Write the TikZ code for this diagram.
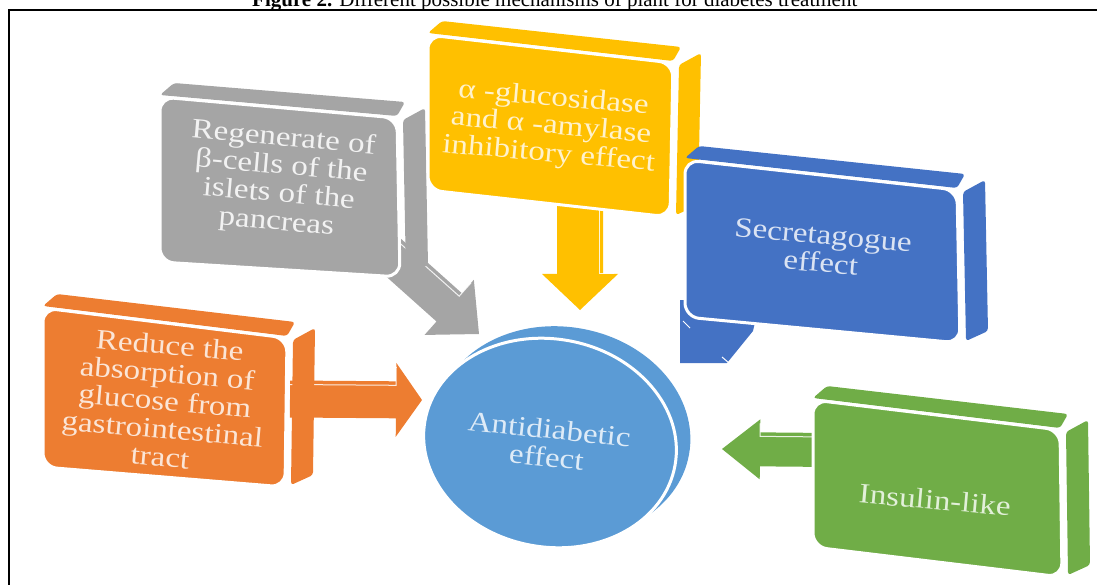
\documentclass[tikz,border=0pt]{standalone}
\usepackage{fontspec}
\setmainfont{Liberation Serif}
\newfontfamily\boxfont[FakeStretch=1.18]{Liberation Serif}
\usetikzlibrary{calc}

\definecolor{orangeC}{HTML}{ED7D31}
\definecolor{grayC}{HTML}{A5A5A5}
\definecolor{yellowC}{HTML}{FFC000}
\definecolor{blueC}{HTML}{4472C4}
\definecolor{greenC}{HTML}{70AD47}
\definecolor{ellC}{HTML}{5B9BD5}
\definecolor{orangeT}{HTML}{FBE5D6}
\definecolor{grayT}{HTML}{F2F2F2}
\definecolor{yellowT}{HTML}{FFF2CC}
\definecolor{blueT}{HTML}{DAE3F3}
\definecolor{greenT}{HTML}{E2F0D9}
\definecolor{ellT}{HTML}{DEEBF7}

% extruded box: top strip, side strip, then the rounded front face
\newcommand\solidbox[2]{%
  \fill[#2, rounded corners=3pt] ($(#1tl)+(14,-14)$) -- ($(#1tr)+(8,-16)$) -- ($(#1tr)+(0,-2)$) -- ($(#1tl)+(0,-2)$) -- cycle;
  \fill[#2, rounded corners=3pt] ($(#1tr)+(6,2)$) -- ($(#1tr)+(28,-10)$) -- ($(#1br)+(28,-12)$) -- ($(#1br)+(6,-2)$) -- cycle;
  \filldraw[fill=#2, draw=white, line width=3pt, rounded corners=14pt] (#1tl) -- (#1tr) -- (#1br) -- (#1bl) -- cycle;
}

% block arrow: #1 start, #2 tip, #3 half shaft, #4 half head, #5 head length, #6 colour, #7 bevel side
\newcommand\blockarrow[7]{%
  \coordinate (#1h) at ($(#2)!#5!(#1)$);
  \fill[#6] ($(#1)!#3!90:(#2)$) -- ($(#1h)!#3!90:(#2)$) -- ($(#1h)!#4!90:(#2)$) -- (#2)
    -- ($(#1h)!#4!-90:(#2)$) -- ($(#1h)!#3!-90:(#2)$) -- ($(#1)!#3!-90:(#2)$) -- cycle;
  \draw[white, line width=1pt, opacity=0.85] ($(#1)!#3-4pt!#7:(#2)$) -- ($(#1h)!#3-4pt!#7:(#2)$)
    -- ($(#1h)!#4-4pt!#7:(#2)$);
}

\tikzset{
  boxtext/.style={font={\boxfont\fontsize{28}{28}\selectfont}, align=center, inner sep=0pt, rotate=-5},
}

\begin{document}
\begin{tikzpicture}[x=1pt,y=-1pt]
\useasboundingbox (0,0) rectangle (1097,585);

% page frame and caption
\draw[line width=2pt] (9,600) -- (9,10) -- (1110,10);
\node[anchor=base west, inner sep=0pt, font={\fontsize{21}{24}\selectfont}] (caption) at (252,6.5)
  {\textbf{Figure 2.} Different possible mechanisms of plant for diabetes treatment};

% central disc
\fill[ellC, rotate around={-10:(563,432)}] (563,432) ellipse [x radius=128pt, y radius=105pt];
\filldraw[fill=ellC, draw=white, line width=3pt, rotate around={-10:(550,443)}] (550,443) ellipse [x radius=127pt, y radius=104pt];
\node[boxtext, text=ellT, rotate=-1] (centre) at (548,443) {Antidiabetic\\effect};

% arrow end points
\coordinate (ga) at (385,250);  \coordinate (gt) at (479,334);
\coordinate (ya) at (580,200);  \coordinate (yt) at (580,310);
\coordinate (oa) at (290,399);  \coordinate (ot) at (422,400);
\coordinate (na) at (830,450);  \coordinate (nt) at (722,449);

\blockarrow{ga}{gt}{19pt}{37pt}{40pt}{grayC}{90}
\blockarrow{ya}{yt}{23pt}{38pt}{36pt}{yellowC}{90}
\blockarrow{oa}{ot}{18.5pt}{37pt}{26pt}{orangeC}{90}
\blockarrow{na}{nt}{17pt}{30pt}{38pt}{greenC}{-90}

% head of the arrow under the blue box
\fill[blueC] (680,300) -- (760,300) -- (753,331) -- (727,363) -- (680,363) -- cycle;
\draw[white, line width=1pt] (683,321) -- (690,328);
\draw[white, line width=1pt] (722,357) -- (729,363);

% corner points of the front faces
\coordinate (otl) at (43,308);  \coordinate (otr) at (287,338);  \coordinate (obr) at (285,487);  \coordinate (obl) at (43,467);
\coordinate (gtl) at (160,97);  \coordinate (gtr) at (397,118);  \coordinate (gbr) at (400,277);  \coordinate (gbl) at (160,262);
\coordinate (ytl) at (428,35);  \coordinate (ytr) at (673,63);   \coordinate (ybr) at (670,217);  \coordinate (ybl) at (428,190);
\coordinate (btl) at (685,160); \coordinate (btr) at (957,190);  \coordinate (bbr) at (960,343);  \coordinate (bbl) at (685,317);
\coordinate (ntl) at (813,400); \coordinate (ntr) at (1060,430); \coordinate (nbr) at (1062,577); \coordinate (nbl) at (813,547);

\solidbox{o}{orangeC}
\solidbox{g}{grayC}
\solidbox{y}{yellowC}
\solidbox{b}{blueC}
\solidbox{n}{greenC}

% labels
\node[boxtext, text=orangeT] (absorb) at (165,401) {Reduce the\\absorption of\\glucose from\\gastrointestinal\\tract};
\node[boxtext, text=grayT] (regen) at (280,181) {Regenerate of\\β-cells of the\\islets of the\\pancreas};
\node[boxtext, text=yellowT] (inhib) at (551,127) {α -glucosidase\\and α -amylase\\inhibitory effect};
\node[boxtext, text=blueT] (secret) at (822,249) {Secretagogue\\effect};
\node[boxtext, text=greenT] (insulin) at (935,500) {Insulin-like};
\end{tikzpicture}
\end{document}
